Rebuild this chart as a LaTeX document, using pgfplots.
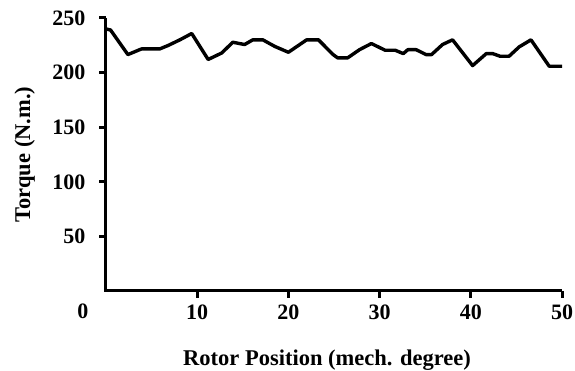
\documentclass[border=0pt]{standalone}
\usepackage{pgfplots}
\pgfplotsset{compat=1.18}
\usepackage{fontspec}
\setmainfont{Liberation Serif}
\begin{document}
\begin{tikzpicture}
\begin{axis}[
 scale only axis, width=456pt, height=273pt,
 xmin=0, xmax=50, ymin=0, ymax=250,
 axis lines*=left,
 axis line style={-},
 xtick={10,20,...,50}, ytick={50,100,...,250},
 tick align=outside, major tick length=7pt,
 /pgf/number format/assume math mode=true,
 ticklabel style={font=\fontsize{22}{24}\selectfont\bfseries},
 xticklabel style={anchor=north, yshift=-3pt},
 yticklabel style={anchor=east, xshift=-10pt},
 xlabel={Rotor Position (mech. degree)}, ylabel={Torque (N.m.)},
 label style={font=\fontsize{22.5}{24}\selectfont\bfseries},
 xlabel style={at={(axis description cs:0.5,0)}, anchor=base, yshift=-75pt, xshift=-7pt},
 ylabel style={at={(axis description cs:-0.178,0.5)}, anchor=center},
 clip=false,
]
\addplot[black, line width=3.4pt, line join=round] coordinates {
(0,240) (0.5,239) (2.4,216.5) (3.9,221.7) (5.9,221.7) (6.8,224.8) (8.1,230) (9.4,235.8)
(11.2,212) (12.7,218) (13.9,227.8) (15.2,225.7) (16.1,230) (17.2,230) (18.5,224) (20.0,218.6)
(22.0,230) (23.3,230) (24.9,216.5) (25.4,213.5) (26.5,213.5) (27.8,221) (29.1,226.6) (30.6,220.5)
(31.7,220.5) (32.6,217.4) (33.1,221) (34.0,221) (35.1,216.5) (35.7,216.5) (36.9,225.7) (38.0,230)
(40.2,206.4) (41.7,217.4) (42.4,217.4) (43.2,215) (44.2,215) (45.3,223.5) (46.6,230) (48.6,205.8) (50,205.8)
};
\draw[black, line width=3pt, line join=miter] (axis cs:0,250) -- (axis cs:0,0) -- (axis cs:50,0);
\pgfplotsinvokeforeach{10,20,30,40,50}{\draw[black, line width=3pt] (axis cs:#1,0) -- ++(0,-7pt);}
\pgfplotsinvokeforeach{50,100,150,200,250}{\draw[black, line width=3pt] (axis cs:0,#1) -- ++(-7pt,0);}
\node[anchor=north, yshift=-9pt, xshift=-23pt, font=\fontsize{22}{24}\selectfont\bfseries] at (axis cs:0,0) {0};
\coordinate (sw) at (rel axis cs:0,0);
\coordinate (ne) at (rel axis cs:1,1);
\end{axis}
\pgfresetboundingbox
\path[use as bounding box] ([shift={(-106pt,-80pt)}]sw) rectangle ([shift={(13pt,18pt)}]ne);
\end{tikzpicture}
\end{document}
